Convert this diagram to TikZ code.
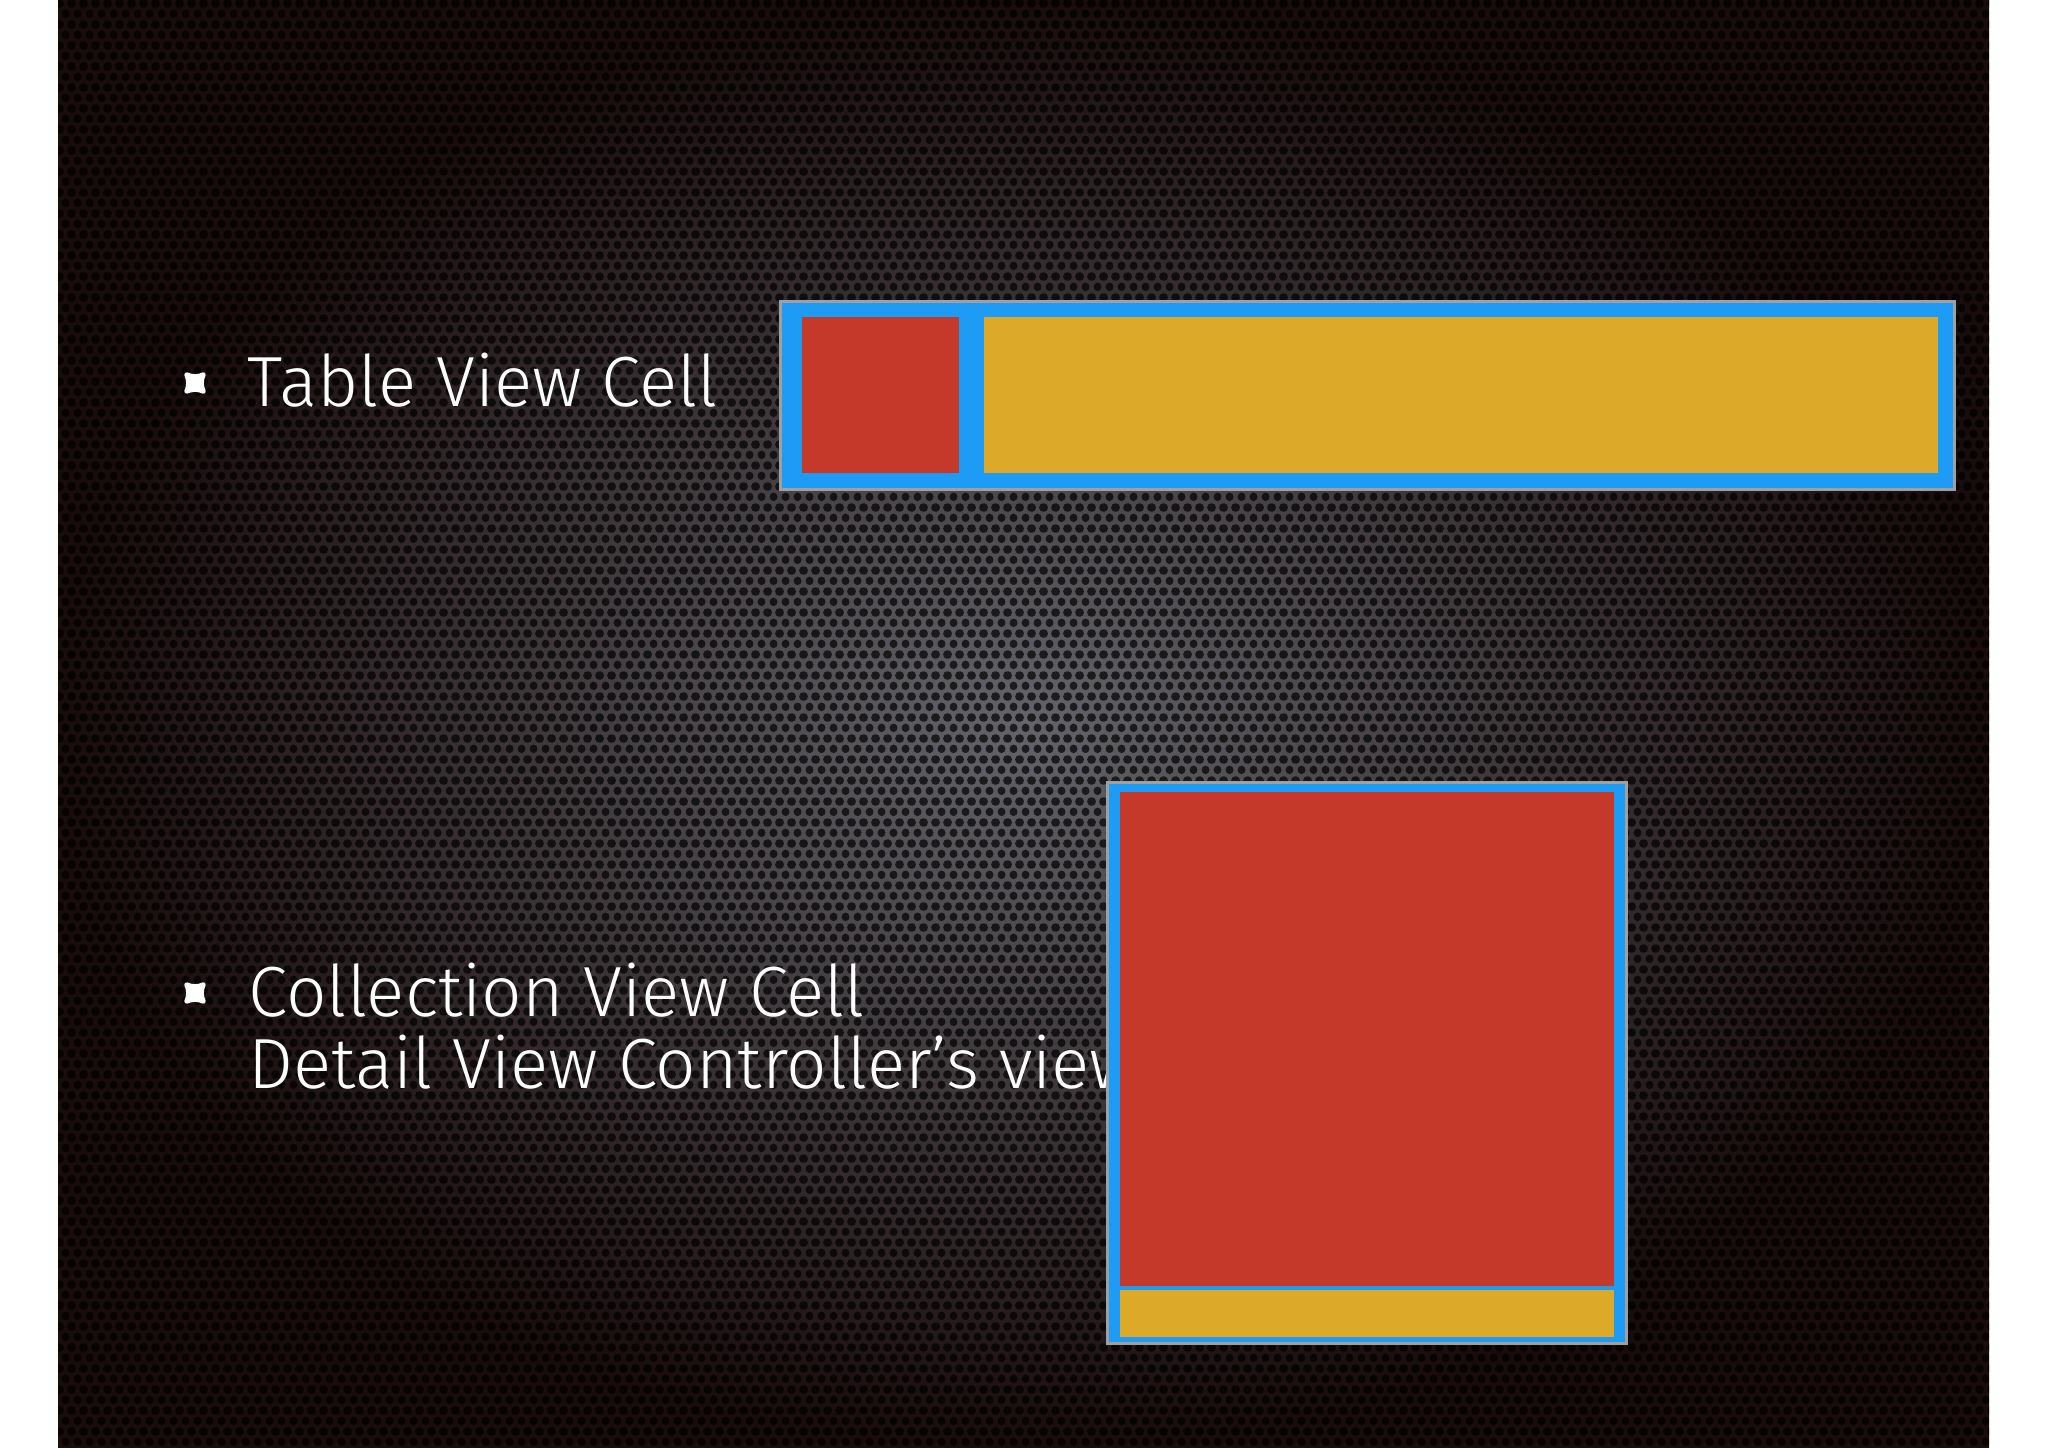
\documentclass[tikz,border=0pt]{standalone}
\usepackage{fontspec}
\setmainfont{Fira Sans}[UprightFont={* Light}]
\usetikzlibrary{positioning,patterns}
\definecolor{cellblue}{RGB}{30,155,245}
\definecolor{cellred}{RGB}{196,57,42}
\definecolor{cellyellow}{RGB}{221,169,40}
\definecolor{rimgray}{RGB}{160,160,160}
\definecolor{metalmid}{RGB}{100,100,106}
\definecolor{metaledge}{RGB}{24,12,12}
\pgfdeclarepatternformonly{holes}{\pgfpointorigin}{\pgfqpoint{3.414pt}{5.918pt}}{\pgfqpoint{3.414pt}{5.918pt}}{
  \pgfpathcircle{\pgfqpoint{1.707pt}{1.479pt}}{1.22pt}
  \pgfpathcircle{\pgfqpoint{0pt}{4.438pt}}{1.22pt}
  \pgfpathcircle{\pgfqpoint{3.414pt}{4.438pt}}{1.22pt}
  \pgfusepath{fill}}
\tikzstyle{cellframe} = [rectangle, draw=rimgray, line width=0.03cm, fill=cellblue, inner sep=0pt]
\tikzstyle{thumb} = [rectangle, fill=cellred, inner sep=0pt]
\tikzstyle{titlebar} = [rectangle, fill=cellyellow, inner sep=0pt]
\tikzstyle{slidetext} = [text=white, inner sep=0pt, anchor=base west, font=\fontsize{20.2}{24}\selectfont]
\tikzstyle{bulletmark} = [fill=white, draw=white, line width=0.045cm, line join=round]
\begin{document}
\begin{tikzpicture}[x=0.01cm, y=-0.01cm]
      \useasboundingbox (0,0) rectangle (2048,1447);
      \fill[white] (0,0) rectangle (2048,1447);
      % background
      \shade[inner color=metalmid, outer color=metaledge] (58,0) rectangle (1989,1447);
      \fill[pattern=holes, pattern color=black, opacity=0.7] (58,0) rectangle (1989,1447);

      % bullets and labels
      \coordinate (b1) at (195,383);
      \coordinate (b2) at (195,993);
      \filldraw[bulletmark, shift={(b1)}] (-8.5,-8.5) .. controls (-3,-6) and (3,-6) .. (8.5,-8.5) .. controls (6,-3) and (6,3) .. (8.5,8.5) .. controls (3,6) and (-3,6) .. (-8.5,8.5) .. controls (-6,3) and (-6,-3) .. cycle;
      \filldraw[bulletmark, shift={(b2)}] (-8.5,-8.5) .. controls (-3,-6) and (3,-6) .. (8.5,-8.5) .. controls (6,-3) and (6,3) .. (8.5,8.5) .. controls (3,6) and (-3,6) .. (-8.5,8.5) .. controls (-6,3) and (-6,-3) .. cycle;
      \node (tlabel) [slidetext] at (247,406) {Table View Cell};
      \node (clabel) [slidetext] at (248,1016) {Collection View Cell};
      \node (dlabel) [slidetext] at (248,1088) {Detail View Controller’s view};

      % table view cell
      \node (tcell) [cellframe, minimum width=11.74cm, minimum height=1.88cm] at (1367.5,395.5) {};
      \node (tthumb) [thumb, minimum width=1.57cm, minimum height=1.56cm] at (880.5,395) {};
      \node (tbar) [titlebar, minimum width=9.53cm, minimum height=1.56cm, right=0.24cm of tthumb] {};

      % collection view cell
      \node (ccell) [cellframe, minimum width=5.19cm, minimum height=5.61cm] at (1367,1063) {};
      \node (cimage) [thumb, minimum width=4.94cm, minimum height=4.94cm] at (1367,1039) {};
      \node (cbar) [titlebar, minimum width=4.94cm, minimum height=0.47cm, below=0.02cm of cimage] {};
\end{tikzpicture}
\end{document}
